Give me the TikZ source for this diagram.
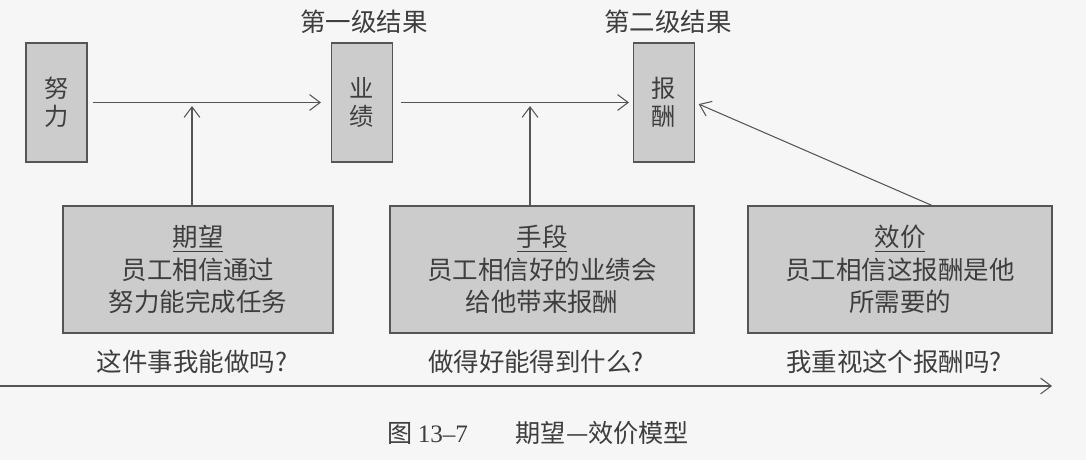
\documentclass[tikz,border=0pt]{standalone}
\usepackage{fontspec}
\setmainfont{Noto Sans CJK SC}
\newfontfamily\capserif{Liberation Serif}
\usetikzlibrary{arrows.meta, positioning, calc}
\definecolor{mybg}{RGB}{246,246,246}
\definecolor{myfill}{RGB}{204,204,204}
\definecolor{myline}{RGB}{85,85,85}
\definecolor{mytext}{RGB}{62,62,62}
\tikzset{
  tallbox/.style={rectangle, draw=myline, fill=myfill,
    minimum width=1.22cm, minimum height=2.38cm, inner sep=0pt,
    align=center, font=\fontsize{13.8}{16}\selectfont, text=mytext, line width=0.6pt},
  widebox/.style={rectangle, draw=myline, fill=myfill,
    minimum height=2.54cm, inner sep=0pt,
    align=center, font=\fontsize{14.5}{18.4}\selectfont, text=mytext, line width=0.6pt},
  plaintext/.style={font=\fontsize{14.5}{18}\selectfont, text=mytext, inner sep=0pt},
  arrow/.style={-{Straight Barb[length=6pt, width=9pt]}, line width=0.6pt, color=myline}
}
\begin{document}
\begin{tikzpicture}
  \fill[mybg] (0,0) rectangle (21.72,-9.2);
  \useasboundingbox (0,0) rectangle (21.72,-9.2);

  % Upper row
  \node[tallbox] (effort) at (1.13,-2.05) {努\\力};
  \node[tallbox] (perf) at (7.24,-2.05) {业\\绩};
  \node[tallbox] (reward) at (13.28,-2.05) {报\\酬};
  \node[plaintext] (lvlone) at (7.28,-0.44) {第一级结果};
  \node[plaintext] (lvltwo) at (13.36,-0.44) {第二级结果};

  % Lower row
  \node[widebox, minimum width=5.4cm] (expect) at (3.96,-5.39)
    {\underline{期望}\\员工相信通过\\努力能完成任务};
  \node[widebox, minimum width=6.08cm] (means) at (10.84,-5.39)
    {\underline{手段}\\员工相信好的业绩会\\给他带来报酬};
  \node[widebox, minimum width=6.08cm] (valence) at (18.0,-5.39)
    {\underline{效价}\\员工相信这报酬是他\\所需要的};

  % Questions
  \node[plaintext] (qone) at (3.84,-7.24) {这件事我能做吗?};
  \node[plaintext] (qtwo) at (10.72,-7.24) {做得好能得到什么?};
  \node[plaintext] (qthree) at (17.88,-7.24) {我重视这个报酬吗?};

  % Arrows
  \draw[arrow, shorten <=0.1cm, shorten >=0.2cm] (effort) -- (perf);
  \draw[arrow, shorten <=0.16cm, shorten >=0.08cm] (perf) -- (reward);
  \coordinate (jone) at (3.84,-2.12);
  \coordinate (jtwo) at (10.6,-2.12);
  \draw[arrow] (expect.north -| jone) -- (jone);
  \draw[arrow] (means.north -| jtwo) -- (jtwo);
  \draw[arrow, shorten >=0.08cm] ($(valence.north)+(0.64,0)$) -- (reward.east);

  % Time axis
  \coordinate (tstart) at (0,-7.72);
  \coordinate (tend) at (21.04,-7.72);
  \draw[arrow] (tstart) -- (tend);

  % Caption
  \node[plaintext, font=\fontsize{14.3}{16}\selectfont] (caption) at (10.76,-8.66)
    {图 {\capserif 13–7}\hspace{1.9em}期望—效价模型};
\end{tikzpicture}
\end{document}
